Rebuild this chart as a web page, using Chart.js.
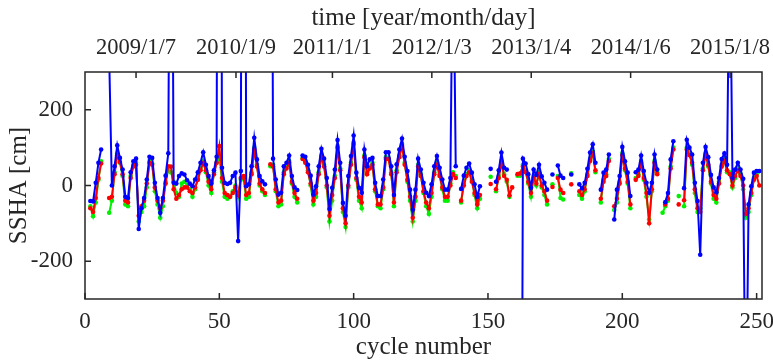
<!DOCTYPE html>
<html>
<head>
<meta charset="utf-8">
<script src="https://cdn.jsdelivr.net/npm/chart.js@4/dist/chart.umd.min.js"></script>
<style>
  html, body { margin: 0; padding: 0; background: #fff; }
  canvas { display: block; }
</style>
</head>
<body>
<canvas id="ssha-chart" width="773" height="361"></canvas>
<script>
const _ = null;

// SSHA per cycle (cycles 1..252), null = no data
const blue = [
  _, -41, -42, 7, 60, 95, _, _, 340, 0,
  51, 106, 73, 42, -30, -33, 35, 64, 71, -115,
  -60, -33, 16, 76, 73, 7, -33, -72, -33, 26,
  85, 1400, 7, 5, 25, 32, 29, 14, 5, -2,
  16, 35, 60, 88, 55, 25, 5, 40, 76, 3000,
  47, 7, 4, 7, 25, 34, -147, 38, 3000, -2,
  3, 51, 126, 69, 25, 11, 3, _, 2000, 71,
  16, -24, -19, 51, 60, 79, 25, -5, -12, _,
  79, 76, 55, 26, -24, -2, 51, 97, 71, 20,
  -62, -6, 42, 120, 60, -46, -80, 25, 78, 132,
  34, -6, -19, 95, 51, 69, 73, 7, -28, -28,
  16, 88, 88, 51, -25, 56, 95, 124, 76, 38,
  -11, -64, -11, 71, 42, 7, -19, -28, 3, 51,
  78, 47, 16, -11, -11, 20, 700, 51, _, -9,
  26, 47, 58, 34, 3, -30, -2, _, _, _,
  44, _, 10, 40, 87, 47, 42, _, _, _,
  _, -2000, 71, 58, 30, -6, 42, 28, 55, 24,
  7, -11, _, 29, _, 53, 26, 20, _, _,
  29, _, _, 3, -8, 7, 44, 87, 109, 60,
  _, -11, 34, 42, 82, _, -90, -11, 25, 102,
  64, 34, -28, _, 35, 42, 79, 38, 7, -19,
  7, 82, 42, _, _, -44, -20, 69, 117, _,
  _, _, -7, 121, 100, 82, 7, -41, -183, 60,
  102, 75, 28, -5, -18, 20, 70, 85, 55, 700,
  20, 42, 60, 42, 18, -700, -50, -2, 34, 38,
  38, _
];

const red = [
  _, -60, -70, -33, 20, 58, _, _, -33, -30,
  30, 80, 62, 30, -40, -45, 20, 50, 55, -80,
  -55, -40, 5, 60, 55, -5, -40, -60, -40, 5,
  51, 50, -10, -35, -25, -10, -5, -5, -15, -20,
  -5, 15, 40, 60, 40, 10, -10, 30, 60, 104,
  20, -20, -25, -30, -20, -5, -25, 20, 25, -25,
  -20, 30, 95, 50, 5, -10, -20, _, 56, 50,
  -10, -45, -40, 30, 45, 60, 10, -20, -35, _,
  70, 60, 35, 5, -40, -20, 30, 75, 50, 0,
  -80, -25, 20, 100, 40, -60, -100, 0, 55, 110,
  20, -30, -45, 75, 30, 45, 55, -10, -50, -50,
  -5, 70, 70, 30, -45, 35, 75, 105, 55, 15,
  -30, -85, -30, 50, 25, -15, -45, -60, -20, 30,
  55, 25, -5, -30, -30, 0, 30, 20, _, -40,
  0, 25, 35, 10, -20, -50, -25, _, _, _,
  4, _, -10, 20, 60, 25, 15, -26, -5, _,
  30, 32, 50, 35, 10, -20, 20, 5, 30, 0,
  -15, -40, _, -4, _, 20, -11, -20, _, _,
  3, _, _, -15, -25, -10, 25, 65, 85, 40,
  _, -35, 10, 25, 65, _, -55, -35, 5, 80,
  45, 10, -50, _, 15, 25, 60, 20, -20, -100,
  -10, 60, 30, _, _, -50, -35, 45, 95, _,
  -50, _, -39, 95, 80, 60, -10, -60, -70, 40,
  80, 55, 10, -25, -35, 5, 50, 65, 40, 30,
  0, 25, 40, 25, 0, -75, -60, -20, 15, 25,
  0, _
];

const green = [
  _, -55, -81, -45, 15, 64, _, _, -72, -40,
  35, 85, 60, 25, -50, -55, 25, 55, 60, -95,
  -70, -55, -5, 65, 58, -15, -50, -85, -55, 10,
  40, 35, 10, -20, -30, 5, 10, 0, -10, -30,
  -10, 20, 45, 65, 35, 0, -20, 35, 60, 75,
  10, -30, -35, -30, -15, 0, -30, 15, 20, -35,
  -30, 35, 100, 55, 0, -15, -25, _, 51, 55,
  -15, -55, -50, 35, 50, 65, 5, -30, -45, _,
  72, 65, 40, 0, -50, -30, 35, 80, 55, -5,
  -95, -40, 25, 105, 45, -70, -110, -5, 60, 115,
  15, -40, -60, 80, 35, 50, 60, -15, -55, -60,
  -10, 75, 72, 35, -55, 40, 80, 110, 60, 10,
  -40, -95, -40, 55, 30, -20, -55, -75, -30, 35,
  60, 30, -10, -40, -40, 5, 35, 25, _, -45,
  5, 30, 40, 15, -25, -60, -35, _, _, _,
  23, _, -15, 25, 65, 30, 10, -30, _, _,
  26, 26, 55, 40, 5, -30, 25, 0, 35, -5,
  -25, -50, _, 3, _, 25, -33, -37, _, _,
  32, _, _, -25, -35, -15, 30, 70, 90, 35,
  _, -45, 15, 30, 70, _, -65, -45, 10, 85,
  40, 5, -60, _, 20, 30, 65, 15, -30, -90,
  -15, 65, 35, _, -72, -55, -40, 50, 100, _,
  -28, _, -55, 100, 85, 55, -20, -70, -60, 45,
  85, 50, 5, -35, -45, 10, 55, 70, 35, 35,
  -5, 20, 45, 30, -10, -85, -70, -25, 20, 30,
  _, _
];

const cycleTicks = [0, 50, 100, 150, 200, 250];
const sshaTicks = [-200, 0, 200];
const dateLabels = ['2009/1/7', '2010/1/9', '2011/1/1', '2012/1/3', '2013/1/4', '2014/1/6', '2015/1/8'];
const dateCycles = [19, 56.2, 92.1, 129.1, 166.1, 203.1, 240.1];

const cycles = blue.map((v, i) => i + 1);
const AXIS = '#262626';
const font = (size, lh) => ({ family: 'Liberation Serif', size: size, lineHeight: lh || 1.2 });

function series(values, color) {
  return {
    data: cycles.map((c, i) => ({ x: c, y: values[i] })),
    borderColor: color,
    backgroundColor: color,
    pointBackgroundColor: color,
    borderWidth: 2,
    pointRadius: 2.3,
    pointBorderWidth: 0,
    tension: 0,
    spanGaps: false
  };
}

// labels may hang past the plot edge, don't let them shrink the plot
function fixHeight(h) {
  return s => { s.height = h; s.paddingLeft = 0; s.paddingRight = 0; };
}

// box + inward tick marks, matlab style
const frame = {
  id: 'frame',
  afterDraw(chart) {
    const { ctx, chartArea: a, scales } = chart;
    ctx.save();
    ctx.strokeStyle = AXIS;
    ctx.lineWidth = 1.5;
    ctx.beginPath();
    scales.x.ticks.forEach(t => {
      const px = scales.x.getPixelForValue(t.value);
      ctx.moveTo(px, a.bottom); ctx.lineTo(px, a.bottom - 6);
    });
    scales.x2.ticks.forEach(t => {
      const px = scales.x2.getPixelForValue(t.value);
      ctx.moveTo(px, a.top); ctx.lineTo(px, a.top + 6);
    });
    scales.y.ticks.forEach(t => {
      const py = scales.y.getPixelForValue(t.value);
      ctx.moveTo(a.left, py); ctx.lineTo(a.left + 6, py);
    });
    ctx.stroke();
    ctx.strokeRect(a.left, a.top, a.right - a.left, a.bottom - a.top);
    ctx.restore();
  }
};

new Chart(document.getElementById('ssha-chart'), {
  type: 'line',
  data: {
    // first dataset is drawn on top
    datasets: [series(blue, '#0000ff'), series(red, '#ff0000'), series(green, '#00f000')]
  },
  options: {
    responsive: false,
    animation: false,
    events: [],
    layout: { padding: { left: 0, right: 11, top: 0, bottom: 0 } },
    plugins: { legend: { display: false }, tooltip: { enabled: false } },
    scales: {
      x: {
        type: 'linear', position: 'bottom', min: 0, max: 252,
        afterBuildTicks: s => { s.ticks = cycleTicks.map(v => ({ value: v })); },
        afterFit: fixHeight(62),
        grid: { display: false, drawTicks: false },
        border: { display: false },
        ticks: { font: font(23), color: AXIS, padding: 9, maxRotation: 0, autoSkip: false },
        title: { display: true, text: 'cycle number', font: font(25, 1), color: AXIS, padding: { top: 0, bottom: 1 } }
      },
      x2: {
        type: 'linear', position: 'top', min: 0, max: 252,
        afterBuildTicks: s => { s.ticks = dateCycles.map(v => ({ value: v })); },
        afterFit: fixHeight(72),
        grid: { display: false, drawTicks: false },
        border: { display: false },
        ticks: {
          font: font(22.5), color: AXIS, padding: 10, maxRotation: 0, autoSkip: false,
          callback: (v, i) => dateLabels[i]
        },
        title: { display: true, text: 'time [year/month/day]', font: font(25, 1), color: AXIS, padding: { top: 6, bottom: 0 } }
      },
      y: {
        type: 'linear', position: 'left', min: -300, max: 300,
        afterBuildTicks: s => { s.ticks = sshaTicks.map(v => ({ value: v })); },
        afterFit: s => { s.width = 85; s.paddingTop = 0; s.paddingBottom = 0; },
        grid: { display: false, drawTicks: false },
        border: { display: false },
        ticks: { font: font(23), color: AXIS, padding: 12 },
        title: { display: true, text: 'SSHA [cm]', font: font(25, 1), color: AXIS, padding: { top: 7, bottom: 0 } }
      }
    }
  },
  plugins: [frame]
});
</script>
</body>
</html>
